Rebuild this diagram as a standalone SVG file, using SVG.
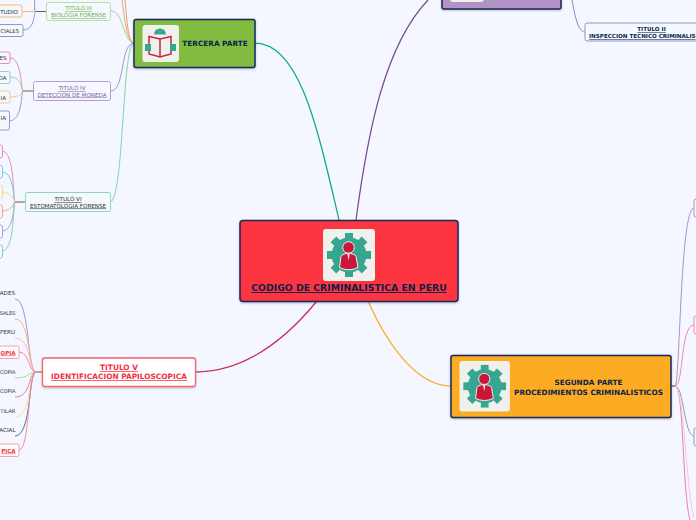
<svg xmlns="http://www.w3.org/2000/svg" xmlns:xlink="http://www.w3.org/1999/xlink" width="696" height="520" viewBox="0 0 696 520">
<style>
text{font-family:"DejaVu Sans",Verdana,sans-serif;font-size:5.6px;fill:#333;text-anchor:middle}
.b{font-weight:bold;fill:#0b1f4b}
.m{font-size:7.3px}
.e{text-anchor:end}
.u{text-decoration:underline}
.r{font-weight:bold;fill:#f5303f}
.main{stroke:#14295c;stroke-width:1.5}
.sub{fill:#f6f8ff;stroke-width:1}
.c{fill:none;stroke-width:1}
.k{fill:none;stroke-width:1.25}
</style>
<defs>
<filter id="s" x="-5%" y="-5%" width="110%" height="115%"><feDropShadow dx="0" dy="1" stdDeviation="0.8" flood-color="#000" flood-opacity=".25"/></filter>
<g id="gear">
<rect x="0" y="0" width="52" height="52" rx="3" fill="#f0f1ec"/>
<g fill="#36a690">
<circle cx="26" cy="26" r="17.500"/>
<g id="t"><rect x="22" y="4" width="8" height="44"/><rect x="4" y="22" width="44" height="8"/></g>
<use xlink:href="#t" transform="rotate(45 26 26)"/>
</g>
<circle cx="25.500" cy="18.500" r="5.800" fill="#c9173a" stroke="#f0f1ec"/>
<path d="M16.500 38.500 L18 27.500 Q18.500 25.500 21.500 25 L25.500 24 L29.500 25 Q32.500 25.500 33 27.500 L35 38.500 Q25.500 43 16.500 38.500Z" fill="#c9173a" stroke="#f0f1ec"/>
<path d="M24.300 24.500 L25.500 31.500 L26.700 24.500Z" fill="#f0f1ec"/>
</g>
</defs>
<rect width="696" height="520" fill="#f4f7ff"/>
<g id="connectors" class="c">
<path class="k" stroke="#0fae6e" d="M339 220C318 130 300 43 255 43"/>
<path class="k" stroke="#734a90" d="M356 220C368 130 385 45 428 0"/>
<path class="k" stroke="#fbab22" d="M368 301C385 340 415 386 451 386"/>
<path class="k" stroke="#c8304f" d="M317 301C285 340 245 372 195 372"/>
<path class="c" stroke="#f2a56b" d="M134 43C127 43 125 20 122 0"/>
<path class="c" stroke="#e79a7e" d="M134 43C128 43 127 20 125 0"/>
<path class="c" stroke="#a6d98c" d="M134 43C123 43 124 11 111 11"/>
<path class="c" stroke="#a893c8" d="M134 43C120 43 125 91 111 91"/>
<path class="c" stroke="#7fd6ae" d="M134 43C122 43 124 202 110 202"/>
<path stroke="#6e5a48" stroke-width="1.200" d="M36 11.500H46M23 91H33M15 202H25M36 372H42"/>
<path class="c" stroke="#7a8fc2" d="M36 11.500C33 11 36 0 34 0"/>
<path class="c" stroke="#fbb37c" d="M36 11.500H22"/>
<path class="c" stroke="#8b9ac4" d="M36 11.500C33 11.500 36 30 23 30"/>
<path class="c" stroke="#ec8ea4" d="M23 91C21 91 22 58 10 58"/>
<path class="c" stroke="#8fd6b4" d="M23 91C21 91 23 77 10 77"/>
<path class="c" stroke="#fbc98a" d="M23 91C22 91 23 97 10 97"/>
<path class="c" stroke="#8b9ed0" d="M23 91C21 91 23 121 9 121"/>
<path class="c" stroke="#ea8ea6" d="M15 202C13 202 15 151 2 151"/>
<path class="c" stroke="#7ec6e6" d="M15 202C13 202 15 172 2 172"/>
<path class="c" stroke="#fbd48c" d="M15 202C14 202 13 192 2 192"/>
<path class="c" stroke="#f0a585" d="M15 202C14 202 13 211 2 211"/>
<path class="c" stroke="#b29cd2" d="M15 202C13 202 15 231 2 231"/>
<path class="c" stroke="#7fd6ae" d="M15 202C13 202 15 251 2 251"/>
<path class="c" stroke="#8b9ed0" d="M36 372C27 372 30 299 15 299"/>
<path class="c" stroke="#fbb37c" d="M36 372C28 372 31 319 15 319"/>
<path class="c" stroke="#f9bad6" d="M36 372C28 372 32 338 15 338"/>
<path class="c" stroke="#f2899e" d="M36 372C28 372 30 352 19 352"/>
<path class="c" stroke="#a9d88c" d="M36 372C28 372 30 378 15 378"/>
<path class="c" stroke="#ec7f9e" d="M36 372C28 372 32 397 15 397"/>
<path class="c" stroke="#f8e88c" d="M36 372C28 372 32 417 15 417"/>
<path class="c" stroke="#60709c" d="M36 372C28 372 32 436 15 436"/>
<path class="c" stroke="#f58fa4" d="M36 372C28 372 30 450 19 450"/>
<path stroke="#7a3a55" stroke-width="1.200" d="M671 386H675"/>
<path class="c" stroke="#a893c8" d="M675 386C680 386 680 208 694 208"/>
<path class="c" stroke="#f08aa0" d="M675 386C684 386 680 325 694 325"/>
<path class="c" stroke="#8b9ac4" d="M675 386C684 386 684 436 694 436"/>
<path class="c" stroke="#ec7f9e" d="M675 386C684 386 682 490 690 520"/>
<path class="c" stroke="#f8c8d8" d="M675 386C684 386 686 490 694 518"/>
<path class="c" stroke="#7a8fb8" d="M572 0C575 16 578 32 585 32"/>
</g>
<g id="root"><rect class="main" x="240" y="220.500" width="218" height="81" rx="3" fill="#fd363f" filter="url(#s)"/><use xlink:href="#gear" x="323" y="229"/><text class="b u" x="349" y="291" style="font-size:9.300px">CODIGO DE CRIMINALISTICA EN PERU</text></g>
<g id="tercera"><rect class="main" x="134" y="19.500" width="121" height="48" rx="2" fill="#81bc41" filter="url(#s)"/><rect x="142.500" y="25" width="36.500" height="37" rx="3" fill="#f0f1ec"/><path d="M154 34.500a6 6 0 0 1 12 0Z" fill="#36a690"/><path d="M160 39L149 36.500V54L160 57L171 54V36.500L160 39V57" fill="none" stroke="#d0213f" stroke-width="1.500"/><rect x="145" y="44" width="6" height="7" fill="#36a690"/><rect x="170" y="44" width="6" height="7" fill="#36a690"/><text class="b m" x="215" y="46">TERCERA PARTE</text></g>
<g id="segunda"><rect class="main" x="451" y="355.500" width="220" height="62" rx="2" fill="#fcab22" filter="url(#s)"/><use xlink:href="#gear" transform="translate(459.500 361) scale(.97)"/><text class="b m" x="588.500" y="385">SEGUNDA PARTE</text><text class="b m" x="588.500" y="394.500">PROCEDIMIENTOS CRIMINALISTICOS</text></g>
<g id="primera"><rect class="main" x="442" y="-20" width="119" height="29" rx="2" fill="#b193c5" filter="url(#s)"/><rect x="450" y="-20" width="34" height="22" rx="3" fill="#f0f1ec"/></g>
<g id="titulo2"><rect class="sub" x="585" y="23" width="120" height="18" rx="2" stroke="#8b9ac4"/><text class="b u" x="651.500" y="31">TITULO II</text><text class="b u" x="589" y="38" style="text-anchor:start">INSPECCION TECNICO CRIMINALIS</text></g>
<g id="titulo3"><rect class="sub" x="46.500" y="2.500" width="64" height="18" rx="2" stroke="#b5e0a0"/><text class="u" x="78.500" y="10" style="fill:#6fb04f">TITULO III</text><text class="u" x="78.500" y="17" style="fill:#6fb04f">BIOLOGIA FORENSE</text></g>
<g id="titulo4"><rect class="sub" x="33.500" y="81.500" width="77" height="19" rx="2" stroke="#b29cd2"/><text class="u" x="72" y="90" style="fill:#7a62a8">TITULO IV</text><text class="u" x="72" y="96.500" style="fill:#7a62a8">DETECCION DE MONEDA</text></g>
<g id="titulo6"><rect class="sub" x="25.500" y="192.500" width="85" height="19" rx="2" stroke="#8fd6b4"/><text class="u" x="68" y="201">TITULO VI</text><text class="u" x="68" y="207.500">ESTOMATOLOGIA FORENSE</text></g>
<g id="titulo5"><rect x="42.500" y="358" width="153" height="28.500" rx="2.500" fill="#fff" stroke="#f2636f" stroke-width="1.300" filter="url(#s)"/><text class="u r" x="119" y="370" style="font-size:7.400px">TITULO V</text><text class="u r" x="119" y="379" style="font-size:7.400px">IDENTIFICACION PAPILOSCOPICA</text></g>
<g id="hijos3"><rect class="sub" x="-5" y="5" width="27" height="12" rx="2" stroke="#fbb37c"/><text class="e" x="18" y="13.500">TUDIO</text><rect class="sub" x="-5" y="24.500" width="28" height="12" rx="2" stroke="#8b9ac4"/><text class="e" x="19" y="33" style="font-size:5.300px">CIALES</text></g>
<g id="hijos4"><rect class="sub" x="-5" y="52" width="15" height="11.500" rx="2" stroke="#ec8ea4"/><text class="e" x="6.500" y="60">ES</text><rect class="sub" x="-5" y="71.500" width="15" height="12" rx="2" stroke="#8fd6b4"/><text class="e" x="6.500" y="80">DA</text><rect class="sub" x="-5" y="91" width="15" height="12" rx="2" stroke="#fbc98a"/><text class="e" x="6" y="100">IA</text><rect class="sub" x="-5" y="111" width="14.500" height="19" rx="2" stroke="#8b9ed0"/><text class="e" x="6" y="120">IA</text></g>
<g id="hijos6"><rect class="sub" x="-5" y="145" width="7.500" height="13" rx="2" stroke="#ea8ea6"/><rect class="sub" x="-5" y="165.500" width="7.500" height="12.500" rx="2" stroke="#7ec6e6"/><rect class="sub" x="-5" y="185.500" width="7.500" height="12.500" rx="2" stroke="#fbd48c"/><rect class="sub" x="-5" y="205" width="7.500" height="13" rx="2" stroke="#f0a585"/><rect class="sub" x="-5" y="225" width="7.500" height="13" rx="2" stroke="#b29cd2"/><rect class="sub" x="-5" y="245" width="7.500" height="13" rx="2" stroke="#7fd6ae"/></g>
<g id="hijos5">
<text class="e" x="15" y="295">ADES</text><text class="e" x="15.500" y="315" style="font-size:5px">SALES</text><text class="e" x="15" y="334">PERU</text>
<rect x="-5" y="346" width="24" height="12.500" rx="2" fill="#fff" stroke="#f7a0ac"/><text class="e u r" x="15.500" y="354.500" style="font-size:5.500px">OPIA</text>
<text class="e" x="15.500" y="374" style="font-size:5.100px">COPIA</text><text class="e" x="15.500" y="393" style="font-size:5.100px">COPIA</text><text class="e" x="15.500" y="413" style="font-size:5.300px">TILAR</text><text class="e" x="15.500" y="432">ACIAL</text>
<rect x="-5" y="444" width="24" height="12.500" rx="2" fill="#fff" stroke="#f7a0ac"/><text class="e u r" x="15.500" y="452.500" style="font-size:5.500px">PICA</text>
</g>
<g id="hijos2"><rect class="sub" x="694" y="199" width="8" height="18" rx="2" stroke="#a893c8"/><rect class="sub" x="694" y="316" width="8" height="18" rx="2" stroke="#f08aa0"/><rect class="sub" x="694" y="428" width="8" height="18" rx="2" stroke="#8b9ac4"/></g>
</svg>
